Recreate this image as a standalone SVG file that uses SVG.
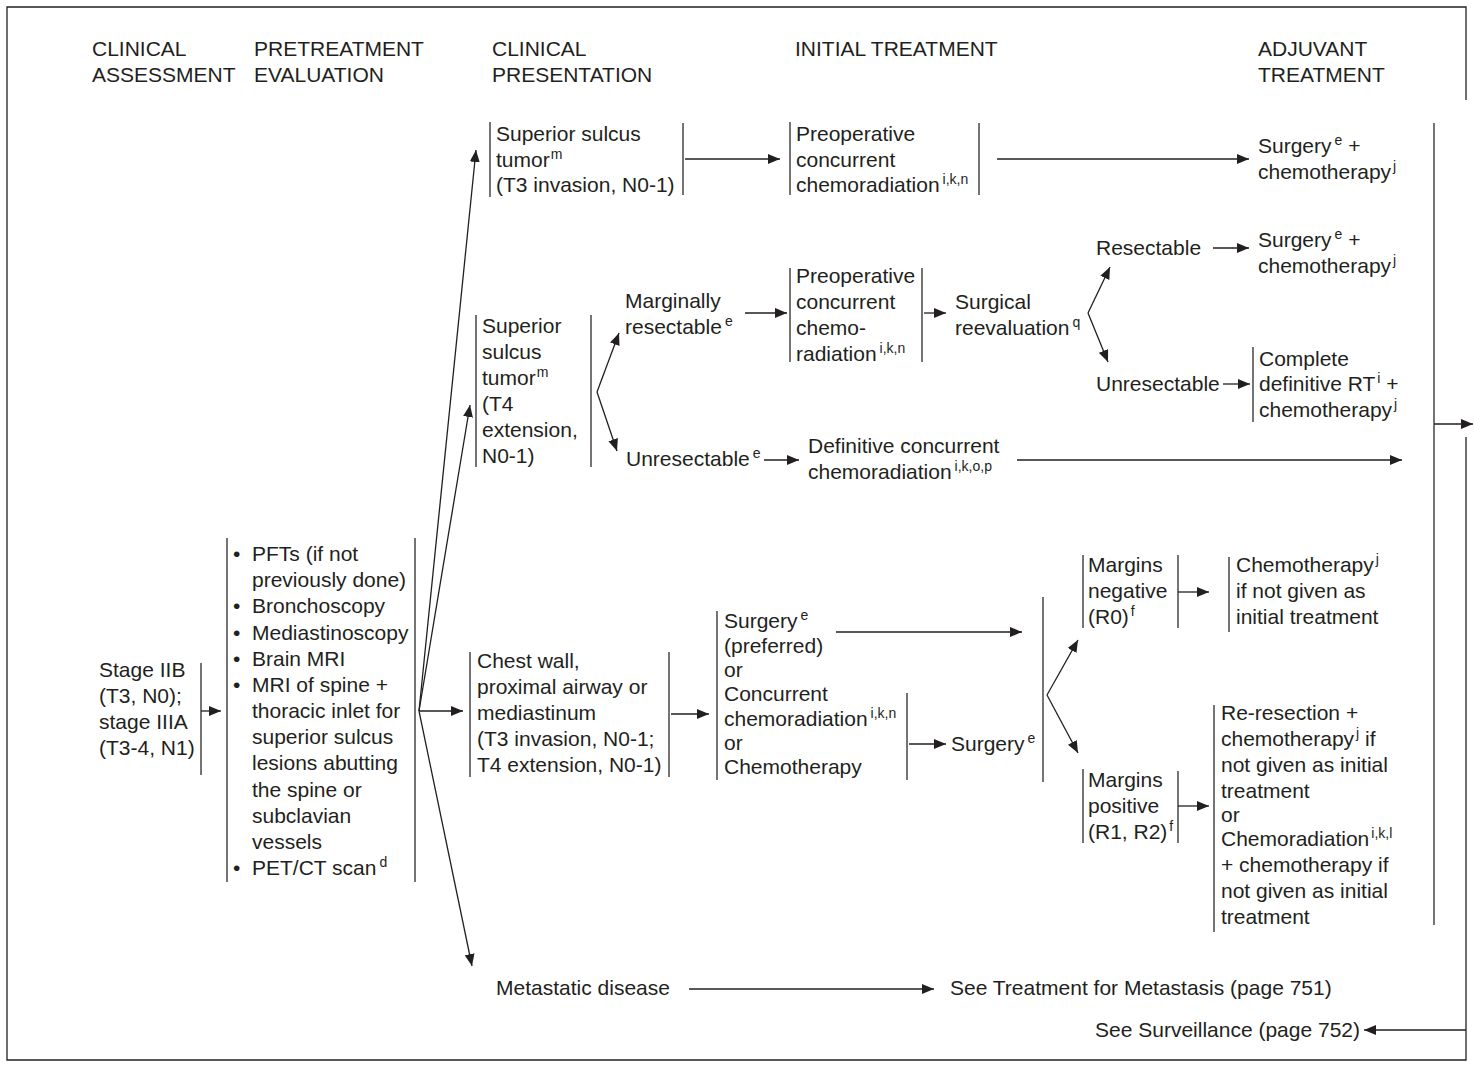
<svg xmlns="http://www.w3.org/2000/svg" width="1474" height="1068" viewBox="0 0 1474 1068">
<style>
text{font-family:"Liberation Sans",Arial,sans-serif;font-size:21px;fill:#231f20}
.s{font-size:14px}
.bar{stroke:#3a3a3a;stroke-width:1.4;fill:none}
.ln{stroke:#231f20;stroke-width:1.3;fill:none}
.ar{stroke:#231f20;stroke-width:1.3;fill:none;marker-end:url(#ah)}
</style>
<defs>
<marker id="ah" viewBox="0 0 12 10" refX="12" refY="5" markerWidth="12" markerHeight="10" markerUnits="userSpaceOnUse" orient="auto">
<path d="M0,0 L12,5 L0,10 z" fill="#231f20"/>
</marker>
</defs>
<rect x="0" y="0" width="1474" height="1068" fill="#ffffff"/>
<path class="ln" d="M1466,437 L1466,1060 L7,1060 L7,7 L1466,7 L1466,100"/>

<g id="headers">
<text x="92" y="56">CLINICAL</text><text x="92" y="82">ASSESSMENT</text>
<text x="254" y="56">PRETREATMENT</text><text x="254" y="82">EVALUATION</text>
<text x="492" y="56">CLINICAL</text><text x="492" y="82">PRESENTATION</text>
<text x="795" y="56">INITIAL TREATMENT</text>
<text x="1258" y="56">ADJUVANT</text><text x="1258" y="82">TREATMENT</text>
</g>

<g id="n-stage">
<text x="99" y="677">Stage IIB</text>
<text x="99" y="703">(T3, N0);</text>
<text x="99" y="729">stage IIIA</text>
<text x="99" y="755">(T3-4, N1)</text>
<line class="bar" x1="201" y1="663" x2="201" y2="775"/>
</g>

<g id="n-eval">
<line class="bar" x1="227" y1="538" x2="227" y2="882"/>
<line class="bar" x1="415" y1="538" x2="415" y2="882"/>
<text x="233" y="561">•</text><text x="252" y="561">PFTs (if not</text>
<text x="252" y="587">previously done)</text>
<text x="233" y="613">•</text><text x="252" y="613">Bronchoscopy</text>
<text x="233" y="640">•</text><text x="252" y="640">Mediastinoscopy</text>
<text x="233" y="666">•</text><text x="252" y="666">Brain MRI</text>
<text x="233" y="692">•</text><text x="252" y="692">MRI of spine +</text>
<text x="252" y="718">thoracic inlet for</text>
<text x="252" y="744">superior sulcus</text>
<text x="252" y="770">lesions abutting</text>
<text x="252" y="797">the spine or</text>
<text x="252" y="823">subclavian</text>
<text x="252" y="849">vessels</text>
<text x="233" y="875">•</text><text x="252" y="875">PET/CT scan<tspan class="s" dx="3" dy="-8">d</tspan></text>
</g>

<g id="n-t3">
<line class="bar" x1="490" y1="122" x2="490" y2="197"/>
<line class="bar" x1="683" y1="123" x2="683" y2="195"/>
<text x="496" y="141">Superior sulcus</text>
<text x="496" y="167">tumor<tspan class="s" dx="1" dy="-8">m</tspan></text>
<text x="496" y="192">(T3 invasion, N0-1)</text>
</g>

<g id="n-preop1">
<line class="bar" x1="790" y1="122" x2="790" y2="195"/>
<line class="bar" x1="979" y1="123" x2="979" y2="195"/>
<text x="796" y="141">Preoperative</text>
<text x="796" y="167">concurrent</text>
<text x="796" y="192">chemoradiation<tspan class="s" dx="3" dy="-8">i,k,n</tspan></text>
</g>

<g id="n-adj1">
<text x="1258" y="153">Surgery<tspan class="s" dx="3" dy="-8">e</tspan><tspan dy="8"> +</tspan></text>
<text x="1258" y="179">chemotherapy<tspan class="s" dx="2" dy="-8">j</tspan></text>
</g>

<g id="n-t4">
<line class="bar" x1="476" y1="315" x2="476" y2="467"/>
<line class="bar" x1="591" y1="315" x2="591" y2="467"/>
<text x="482" y="333">Superior</text>
<text x="482" y="359">sulcus</text>
<text x="482" y="385">tumor<tspan class="s" dx="1" dy="-8">m</tspan></text>
<text x="482" y="411">(T4</text>
<text x="482" y="437">extension,</text>
<text x="482" y="463">N0-1)</text>
</g>

<g id="n-marginal">
<text x="625" y="308">Marginally</text>
<text x="625" y="334">resectable<tspan class="s" dx="3" dy="-8">e</tspan></text>
</g>

<g id="n-preop2">
<line class="bar" x1="790" y1="268" x2="790" y2="362"/>
<line class="bar" x1="922" y1="268" x2="922" y2="362"/>
<text x="796" y="283">Preoperative</text>
<text x="796" y="309">concurrent</text>
<text x="796" y="335">chemo-</text>
<text x="796" y="361">radiation<tspan class="s" dx="3" dy="-8">i,k,n</tspan></text>
</g>

<g id="n-surgical">
<text x="955" y="309">Surgical</text>
<text x="955" y="335">reevaluation<tspan class="s" dx="3" dy="-8">q</tspan></text>
</g>

<g id="n-resectable">
<text x="1096" y="255">Resectable</text>
</g>

<g id="n-adj2">
<text x="1258" y="247">Surgery<tspan class="s" dx="3" dy="-8">e</tspan><tspan dy="8"> +</tspan></text>
<text x="1258" y="273">chemotherapy<tspan class="s" dx="2" dy="-8">j</tspan></text>
</g>

<g id="n-unres2">
<text x="1096" y="391">Unresectable</text>
</g>

<g id="n-complete">
<line class="bar" x1="1253" y1="347" x2="1253" y2="422"/>
<text x="1259" y="366">Complete</text>
<text x="1259" y="391">definitive RT<tspan class="s" dx="2" dy="-8">i</tspan><tspan dy="8"> +</tspan></text>
<text x="1259" y="417">chemotherapy<tspan class="s" dx="2" dy="-8">j</tspan></text>
</g>

<g id="n-unres1">
<text x="626" y="466">Unresectable<tspan class="s" dx="3" dy="-8">e</tspan></text>
</g>

<g id="n-definitive">
<text x="808" y="453">Definitive concurrent</text>
<text x="808" y="479">chemoradiation<tspan class="s" dx="3" dy="-8">i,k,o,p</tspan></text>
</g>

<g id="n-chest">
<line class="bar" x1="470" y1="652" x2="470" y2="777"/>
<line class="bar" x1="669" y1="652" x2="669" y2="777"/>
<text x="477" y="668">Chest wall,</text>
<text x="477" y="694">proximal airway or</text>
<text x="477" y="720">mediastinum</text>
<text x="477" y="746">(T3 invasion, N0-1;</text>
<text x="477" y="772">T4 extension, N0-1)</text>
</g>

<g id="n-options">
<line class="bar" x1="717" y1="611" x2="717" y2="780"/>
<line class="bar" x1="907" y1="693" x2="907" y2="780"/>
<text x="724" y="628">Surgery<tspan class="s" dx="3" dy="-8">e</tspan></text>
<text x="724" y="653">(preferred)</text>
<text x="724" y="677">or</text>
<text x="724" y="701">Concurrent</text>
<text x="724" y="726">chemoradiation<tspan class="s" dx="3" dy="-8">i,k,n</tspan></text>
<text x="724" y="750">or</text>
<text x="724" y="774">Chemotherapy</text>
</g>

<g id="n-surgery2">
<text x="951" y="751">Surgery<tspan class="s" dx="3" dy="-8">e</tspan></text>
<line class="bar" x1="1043" y1="597" x2="1043" y2="782"/>
</g>

<g id="n-mneg">
<line class="bar" x1="1083" y1="555" x2="1083" y2="628"/>
<line class="bar" x1="1178" y1="555" x2="1178" y2="628"/>
<text x="1088" y="572">Margins</text>
<text x="1088" y="598">negative</text>
<text x="1088" y="624">(R0)<tspan class="s" dx="2" dy="-8">f</tspan></text>
</g>

<g id="n-chemoadj">
<line class="bar" x1="1229" y1="557" x2="1229" y2="632"/>
<text x="1236" y="572">Chemotherapy<tspan class="s" dx="2" dy="-8">j</tspan></text>
<text x="1236" y="598">if not given as</text>
<text x="1236" y="624">initial treatment</text>
</g>

<g id="n-mpos">
<line class="bar" x1="1083" y1="769" x2="1083" y2="843"/>
<line class="bar" x1="1178" y1="771" x2="1178" y2="843"/>
<text x="1088" y="787">Margins</text>
<text x="1088" y="813">positive</text>
<text x="1088" y="839">(R1, R2)<tspan class="s" dx="2" dy="-8">f</tspan></text>
</g>

<g id="n-reresect">
<line class="bar" x1="1214" y1="705" x2="1214" y2="932"/>
<text x="1221" y="720">Re-resection +</text>
<text x="1221" y="746">chemotherapy<tspan class="s" dx="2" dy="-8">j</tspan><tspan dy="8">  if</tspan></text>
<text x="1221" y="772">not given as initial</text>
<text x="1221" y="798">treatment</text>
<text x="1221" y="822">or</text>
<text x="1221" y="846">Chemoradiation<tspan class="s" dx="2" dy="-8">i,k,l</tspan></text>
<text x="1221" y="872">+ chemotherapy if</text>
<text x="1221" y="898">not given as initial</text>
<text x="1221" y="924">treatment</text>
</g>

<g id="n-adjbar">
<line class="bar" x1="1434" y1="123" x2="1434" y2="925"/>
</g>

<g id="n-metastatic">
<text x="496" y="995">Metastatic disease</text>
</g>

<g id="n-seemeta">
<text x="950" y="995">See Treatment for Metastasis (page 751)</text>
</g>

<g id="n-surveillance">
<text x="1095" y="1037">See Surveillance (page 752)</text>
</g>

<g id="connectors">
<line class="ar" x1="201" y1="711" x2="221" y2="711"/>
<line class="ar" x1="419" y1="711" x2="476" y2="150"/>
<line class="ar" x1="419" y1="711" x2="470" y2="405"/>
<line class="ar" x1="419" y1="711" x2="463" y2="711"/>
<line class="ar" x1="419" y1="711" x2="472" y2="966"/>
<line class="ar" x1="685" y1="159" x2="780" y2="159"/>
<line class="ar" x1="997" y1="159" x2="1249" y2="159"/>
<line class="ar" x1="597" y1="392" x2="619" y2="333"/>
<line class="ar" x1="597" y1="392" x2="617" y2="451"/>
<line class="ar" x1="745" y1="313" x2="787" y2="313"/>
<line class="ar" x1="924" y1="313" x2="946" y2="313"/>
<line class="ar" x1="1088" y1="313" x2="1110" y2="267"/>
<line class="ar" x1="1088" y1="313" x2="1108" y2="362"/>
<line class="ar" x1="1213" y1="248" x2="1249" y2="248"/>
<line class="ar" x1="1223" y1="384" x2="1250" y2="384"/>
<line class="ar" x1="764" y1="460" x2="799" y2="460"/>
<line class="ar" x1="1017" y1="460" x2="1402" y2="460"/>
<line class="ar" x1="1434" y1="424" x2="1473" y2="424"/>
<line class="ar" x1="1466" y1="1030" x2="1364" y2="1030"/>
<line class="ar" x1="671" y1="714" x2="709" y2="714"/>
<line class="ar" x1="836" y1="632" x2="1022" y2="632"/>
<line class="ar" x1="909" y1="744" x2="946" y2="744"/>
<line class="ar" x1="1047" y1="695" x2="1078" y2="640"/>
<line class="ar" x1="1047" y1="695" x2="1078" y2="753"/>
<line class="ar" x1="1178" y1="592" x2="1209" y2="592"/>
<line class="ar" x1="1178" y1="806" x2="1209" y2="806"/>
<line class="ar" x1="689" y1="989" x2="934" y2="989"/>
</g>
</svg>
